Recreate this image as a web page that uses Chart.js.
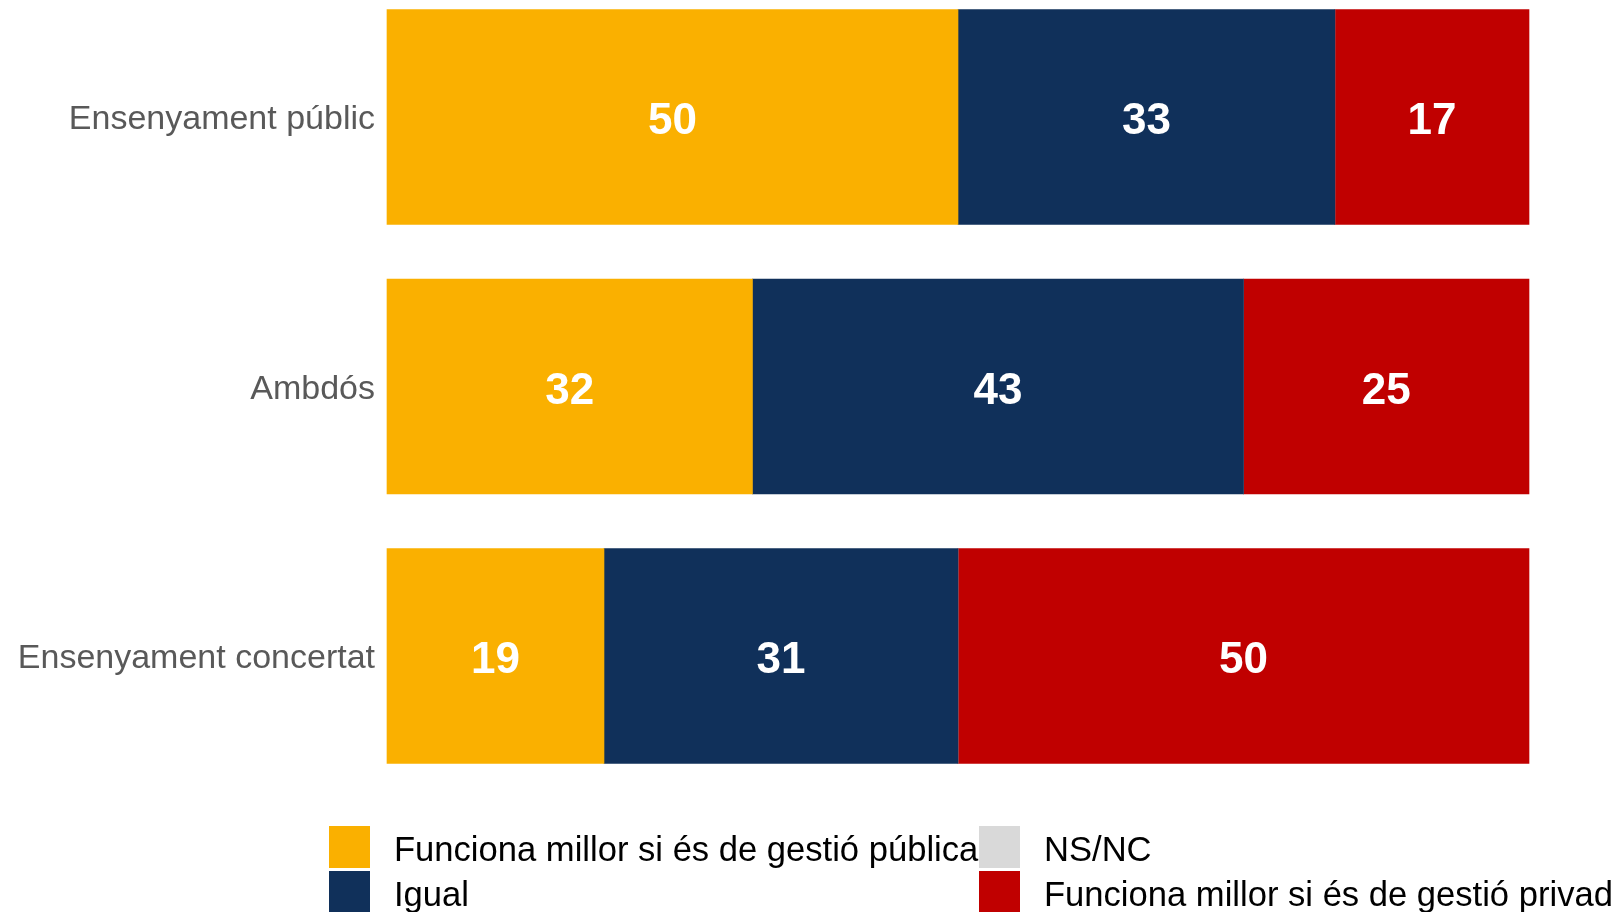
<!DOCTYPE html>
<html>
<head>
<meta charset="utf-8">
<script src="https://cdn.jsdelivr.net/npm/chart.js@4/dist/chart.umd.min.js"></script>
<style>
html,body{margin:0;padding:0;background:#fff;overflow:hidden}
#wrap{width:1611px;height:912px;position:relative}
</style>
</head>
<body>
<div id="wrap"><canvas id="grafica"></canvas></div>
<script>
let categorias = ["Ensenyament públic", "Ambdós", "Ensenyament concertat"]
let series = ["Funciona millor si és de gestió pública", "Igual", "NS/NC", "Funciona millor si és de gestió privada"]
let publica = [50, 32, 19]
let igual = [33, 43, 31]
let nsnc = [0, 0, 0]
let privada = [17, 25, 50]
let colores = ["#FAB000", "#10305A", "#D9D9D9", "#C00000"]

// etiquetes blanques dins de cada barra
const etiquetes = {
  id: 'etiquetes',
  afterDatasetsDraw(chart){
    let ctx = chart.ctx
    ctx.save()
    ctx.fillStyle = '#ffffff'
    ctx.font = 'bold 44px "Liberation Sans", Arial, sans-serif'
    ctx.textAlign = 'center'
    ctx.textBaseline = 'middle'
    chart.data.datasets.forEach((ds, i) => {
      let meta = chart.getDatasetMeta(i)
      meta.data.forEach((bar, j) => {
        let v = ds.data[j]
        if (!v) return
        ctx.fillText(String(v), (bar.x + bar.base) / 2, bar.y + 5)
      })
    })
    ctx.restore()
  }
}

// llegenda en dues columnes
const llegenda = {
  id: 'llegenda',
  afterDraw(chart){
    let ctx = chart.ctx
    ctx.save()
    ctx.font = '34.6px "Liberation Sans", Arial, sans-serif'
    ctx.textBaseline = 'middle'
    ctx.textAlign = 'left'
    chart.data.datasets.forEach((ds, i) => {
      let col = i >= 2 ? 1 : 0
      let fila = i % 2
      let x = 329 + col * 650
      let y = 826 + fila * 45
      ctx.fillStyle = ds.backgroundColor
      ctx.fillRect(x, y, 41, 42)
      ctx.fillStyle = '#000000'
      ctx.fillText(ds.label, x + 65, y + 25)
    })
    ctx.restore()
  }
}

let datos = [publica, igual, nsnc, privada]

new Chart(document.getElementById("grafica"), {
  type: 'bar',
  data: {
    labels: categorias,
    datasets: series.map((s, i) => ({
      label: s,
      data: datos[i],
      backgroundColor: colores[i],
      borderWidth: 0,
      barThickness: 215,
      clip: false
    }))
  },
  options: {
    indexAxis: 'y',
    responsive: true,
    maintainAspectRatio: false,
    animation: false,
    layout: {
      padding: { left: 0, right: 82, top: 117, bottom: 256 }
    },
    plugins: {
      legend: { display: false },
      tooltip: { enabled: false }
    },
    scales: {
      x: {
        stacked: true,
        min: 0,
        max: 100,
        display: false
      },
      y: {
        stacked: true,
        offset: false,
        grid: { display: false, drawTicks: false },
        border: { display: false },
        ticks: {
          color: '#595959',
          padding: 12,
          labelOffset: 3,
          font: { family: '"Liberation Sans", Arial, sans-serif', size: 34 }
        },
        afterFit(scale){ scale.width = 387 }
      }
    }
  },
  plugins: [etiquetes, llegenda]
})
</script>
</body>
</html>
